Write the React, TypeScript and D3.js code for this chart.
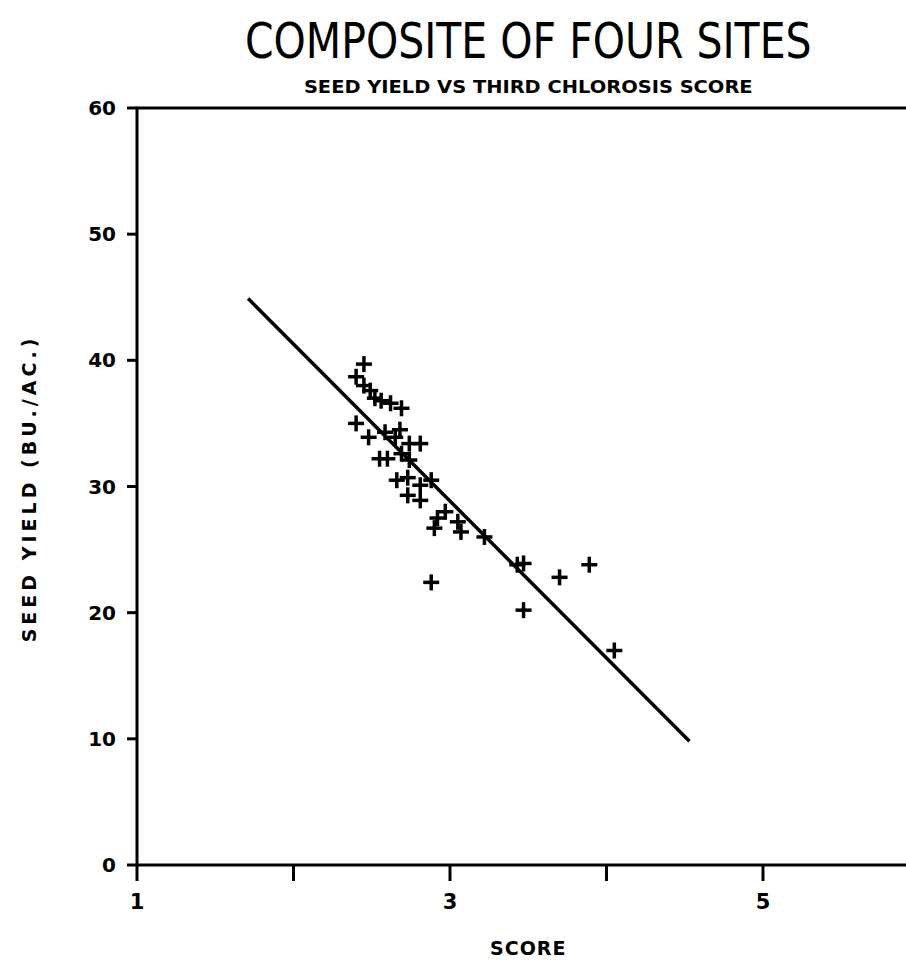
import React from "react";
import * as d3 from "d3";

const title = "COMPOSITE OF FOUR SITES";
const subtitle = "SEED YIELD VS THIRD CHLOROSIS SCORE";
const xLabel = "SCORE";
const yLabel = "SEED YIELD (BU./AC.)";

const xTicks = [1, 2, 3, 4, 5, 6];
const xTickLabels = [1, 3, 5];
const yTicks = [0, 10, 20, 30, 40, 50, 60];

const scores = [
  2.45, 2.4, 2.45, 2.49, 2.52, 2.56, 2.62, 2.69, 2.4, 2.48,
  2.585, 2.65, 2.68, 2.74, 2.81, 2.55, 2.6, 2.69, 2.74, 2.66,
  2.73, 2.81, 2.88, 2.73, 2.81, 2.97, 2.92, 2.9, 3.05, 3.07,
  3.22, 3.43, 3.47, 2.88, 3.7, 3.89, 3.47, 4.05,
];
const yields = [
  39.7, 38.7, 38.0, 37.6, 37.0, 36.8, 36.6, 36.2, 35.0, 33.9,
  34.3, 33.9, 34.5, 33.4, 33.4, 32.2, 32.2, 32.6, 32.1, 30.5,
  30.7, 30.1, 30.5, 29.3, 28.9, 28.0, 27.5, 26.7, 27.2, 26.4,
  26.0, 23.8, 23.9, 22.4, 22.8, 23.8, 20.2, 17.0,
];

const fitX = [1.71, 4.53];
const fitY = [44.9, 9.8];

export default function App() {
  const W = 906;
  const H = 968;
  const x = d3.scaleLinear().domain([1, 6]).range([137, 919.5]);
  const y = d3.scaleLinear().domain([0, 60]).range([865, 108]);
  const line = d3
    .line<number>()
    .x((_, i) => x(fitX[i]))
    .y((_, i) => y(fitY[i]));
  const font = "'DejaVu Sans', sans-serif";
  const pts = scores.map((s, i) => ({ s, v: yields[i] }));
  const arm = 8;
  const cx = (x(1) + x(6)) / 2;
  return (
    <svg
      width={W}
      height={H}
      style={{ position: "absolute", left: 0, top: 0, background: "#fff" }}
    >
      <rect width={W} height={H} fill="#fff" />
      <text
        transform={`translate(${cx}, 58) scale(0.82, 1)`}
        textAnchor="middle"
        fontFamily={font}
        fontSize={50}
        fill="#000"
      >
        {title}
      </text>
      <text
        transform={`translate(${cx}, 93) scale(1.08, 1)`}
        textAnchor="middle"
        fontFamily={font}
        fontWeight="bold"
        fontSize={18}
        fill="#000"
      >
        {subtitle}
      </text>
      {/* frame */}
      <rect
        x={x(1)}
        y={y(60)}
        width={x(6) - x(1)}
        height={y(0) - y(60)}
        fill="none"
        stroke="#000"
        strokeWidth={3}
      />
      {/* x ticks */}
      {xTicks.map((t) => (
        <line
          key={"xt" + t}
          x1={x(t)}
          x2={x(t)}
          y1={y(0)}
          y2={y(0) + 16}
          stroke="#000"
          strokeWidth={3}
        />
      ))}
      {xTickLabels.map((t) => (
        <text
          key={"xl" + t}
          x={x(t)}
          y={y(0) + 44}
          textAnchor="middle"
          fontFamily={font}
          fontWeight="bold"
          fontSize={21}
          fill="#000"
        >
          {t}
        </text>
      ))}
      {/* y ticks */}
      {yTicks.map((t) => (
        <g key={"yt" + t}>
          <line
            x1={x(1) - 10}
            x2={x(1)}
            y1={y(t)}
            y2={y(t)}
            stroke="#000"
            strokeWidth={3}
          />
          <text
            x={x(1) - 21}
            y={y(t) + 7}
            textAnchor="end"
            fontFamily={font}
            fontWeight="bold"
            fontSize={20}
            fill="#000"
          >
            {t}
          </text>
        </g>
      ))}
      <text
        x={cx}
        y={955}
        textAnchor="middle"
        fontFamily={font}
        fontWeight="bold"
        fontSize={19}
        letterSpacing={1}
        fill="#000"
      >
        {xLabel}
      </text>
      <text
        transform={`translate(36, ${(y(0) + y(60)) / 2 + 2}) rotate(-90)`}
        textAnchor="middle"
        fontFamily={font}
        fontWeight="bold"
        fontSize={19}
        letterSpacing={4}
        fill="#000"
      >
        {yLabel}
      </text>
      {/* regression line */}
      <path d={line(fitX) || ""} fill="none" stroke="#000" strokeWidth={3.5} />
      {/* points */}
      {pts.map((p, i) => (
        <g key={"p" + i} stroke="#000" strokeWidth={3.5}>
          <line
            x1={x(p.s) - arm}
            x2={x(p.s) + arm}
            y1={y(p.v)}
            y2={y(p.v)}
          />
          <line
            x1={x(p.s)}
            x2={x(p.s)}
            y1={y(p.v) - arm}
            y2={y(p.v) + arm}
          />
        </g>
      ))}
    </svg>
  );
}
